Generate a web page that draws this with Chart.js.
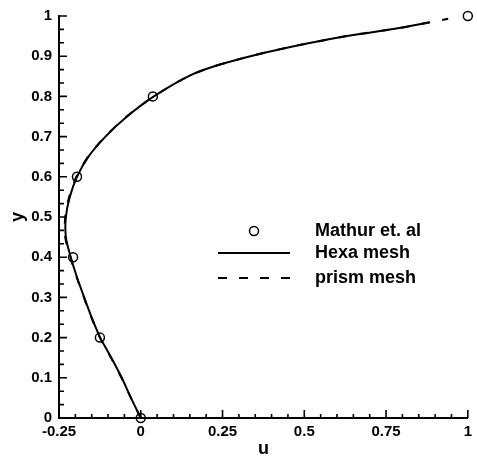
<!DOCTYPE html>
<html>
<head>
<meta charset="utf-8">
<script src="https://cdn.jsdelivr.net/npm/chart.js@4.4.0/dist/chart.umd.min.js"></script>
<style>
html, body { margin: 0; padding: 0; background: #fff; }
</style>
</head>
<body>
<canvas id="chart" width="477" height="460"></canvas>
<script>
// Profil de vitesse u le long de y
var uMathur = [0, -0.125, -0.207, -0.195, 0.037, 1];
var yMathur = [0, 0.2, 0.4, 0.6, 0.8, 1];

var yHexa = [0, 0.05, 0.1, 0.15, 0.2, 0.25, 0.3, 0.35, 0.4, 0.45, 0.5, 0.55, 0.6, 0.65, 0.7, 0.75, 0.8, 0.85, 0.875, 0.9, 0.92, 0.95, 0.97, 0.984];
var uHexa = [0, -0.03, -0.058, -0.09, -0.124, -0.15, -0.173, -0.195, -0.214, -0.229, -0.229, -0.217, -0.195, -0.16, -0.108, -0.042, 0.04, 0.145, 0.225, 0.335, 0.44, 0.63, 0.79, 0.881];

var yPrism = [0, 0.05, 0.1, 0.15, 0.2, 0.25, 0.3, 0.35, 0.4, 0.45, 0.5, 0.55, 0.6, 0.65, 0.7, 0.75, 0.8, 0.85, 0.875, 0.9, 0.92, 0.95, 0.97, 0.984, 0.993];
var uPrism = [0, -0.03, -0.059, -0.091, -0.125, -0.151, -0.174, -0.196, -0.215, -0.231, -0.231, -0.219, -0.197, -0.161, -0.109, -0.043, 0.04, 0.145, 0.225, 0.335, 0.44, 0.63, 0.79, 0.881, 0.94];

var xTicks = [-0.25, 0, 0.25, 0.5, 0.75, 1];
var xTickLabels = ['-0.25', '0', '0.25', '0.5', '0.75', '1'];
var yTicks = [0, 0.1, 0.2, 0.3, 0.4, 0.5, 0.6, 0.7, 0.8, 0.9, 1];
var yTickLabels = ['0', '0.1', '0.2', '0.3', '0.4', '0.5', '0.6', '0.7', '0.8', '0.9', '1'];

function toPoints(us, ys) {
    return us.map(function(u, i) { return { x: u, y: ys[i] }; });
}

var FONT = "'Liberation Sans', Arial, sans-serif";

// Graduations vers l'intérieur (majeures + mineures)
var tickMarks = {
    id: 'tickMarks',
    afterDraw: function(chart) {
        var ctx = chart.ctx;
        var xs = chart.scales.x, ys = chart.scales.y;
        var bottom = chart.chartArea.bottom, left = chart.chartArea.left;
        ctx.save();
        ctx.strokeStyle = '#000';
        ctx.lineWidth = 1.6;
        ctx.beginPath();
        xTicks.forEach(function(v, i) {
            var px = xs.getPixelForValue(v);
            ctx.moveTo(px, bottom); ctx.lineTo(px, bottom - 8);
            if (i < xTicks.length - 1) {
                var step = (xTicks[i + 1] - v) / 5;
                for (var k = 1; k < 5; k++) {
                    var mx = xs.getPixelForValue(v + k * step);
                    ctx.moveTo(mx, bottom); ctx.lineTo(mx, bottom - 4);
                }
            }
        });
        yTicks.forEach(function(v, i) {
            var py = ys.getPixelForValue(v);
            ctx.moveTo(left, py); ctx.lineTo(left + 8, py);
            if (i < yTicks.length - 1) {
                var step = (yTicks[i + 1] - v) / 3;
                for (var k = 1; k < 3; k++) {
                    var my = ys.getPixelForValue(v + k * step);
                    ctx.moveTo(left, my); ctx.lineTo(left + 5, my);
                }
            }
        });
        ctx.stroke();
        ctx.restore();
    }
};

// Légende dessinée dans la zone du graphique
var innerLegend = {
    id: 'innerLegend',
    afterDraw: function(chart) {
        var ctx = chart.ctx;
        var rows = [231, 253, 278];
        var x0 = 218, x1 = 290, tx = 315;
        ctx.save();
        ctx.strokeStyle = '#000';
        ctx.fillStyle = '#000';
        ctx.font = 'bold 18px ' + FONT;
        ctx.textBaseline = 'middle';
        chart.data.datasets.forEach(function(ds, i) {
            var y = rows[i];
            ctx.beginPath();
            if (ds.showLine === false) {
                ctx.lineWidth = 1.5;
                ctx.arc((x0 + x1) / 2, y, 4.5, 0, Math.PI * 2);
            } else {
                ctx.lineWidth = ds.borderWidth;
                ctx.setLineDash(ds.borderDash || []);
                ctx.moveTo(x0, y); ctx.lineTo(x1, y);
            }
            ctx.stroke();
            ctx.setLineDash([]);
            ctx.fillText(ds.label, tx, y);
        });
        ctx.restore();
    }
};

var ctx = document.getElementById('chart').getContext('2d');
var chart = new Chart(ctx, {
    type: 'scatter',
    data: {
        datasets: [{
            label: 'Mathur et. al',
            data: toPoints(uMathur, yMathur),
            showLine: false,
            pointStyle: 'circle',
            pointRadius: 4.5,
            pointBorderWidth: 1.5,
            pointBorderColor: '#000',
            pointBackgroundColor: 'rgba(0,0,0,0)',
            clip: false
        }, {
            label: 'Hexa mesh',
            data: toPoints(uHexa, yHexa),
            showLine: true,
            borderColor: '#000',
            borderWidth: 2,
            pointRadius: 0,
            tension: 0.3
        }, {
            label: 'prism mesh',
            data: toPoints(uPrism, yPrism),
            showLine: true,
            borderColor: '#000',
            borderWidth: 2,
            borderDash: [9, 12],
            pointRadius: 0,
            tension: 0.3
        }]
    },
    options: {
        responsive: false,
        animation: false,
        layout: { padding: { top: 12, right: 8, left: 0, bottom: 0 } },
        plugins: { legend: { display: false }, tooltip: { enabled: false } },
        scales: {
            x: {
                type: 'linear',
                min: -0.25,
                max: 1,
                afterBuildTicks: function(scale) {
                    scale.ticks = xTicks.map(function(v) { return { value: v }; });
                },
                afterFit: function(scale) { scale.height = 42; },
                grid: { display: false, drawTicks: false },
                border: { display: true, color: '#000', width: 2 },
                ticks: {
                    color: '#000',
                    padding: 5,
                    maxRotation: 0,
                    autoSkip: false,
                    font: { family: FONT, size: 15, weight: 'bold' },
                    callback: function(v, i) { return xTickLabels[i]; }
                },
                title: {
                    display: true,
                    text: 'u',
                    color: '#000',
                    padding: { top: 0, bottom: 0 },
                    font: { family: FONT, size: 18, weight: 'bold' }
                }
            },
            y: {
                type: 'linear',
                min: 0,
                max: 1,
                afterBuildTicks: function(scale) {
                    scale.ticks = yTicks.map(function(v) { return { value: v }; });
                },
                afterFit: function(scale) { scale.width = 59; },
                grid: { display: false, drawTicks: false },
                border: { display: true, color: '#000', width: 2 },
                ticks: {
                    color: '#000',
                    padding: 7,
                    autoSkip: false,
                    font: { family: FONT, size: 15, weight: 'bold' },
                    callback: function(v, i) { return yTickLabels[i]; }
                },
                title: {
                    display: true,
                    text: 'y',
                    color: '#000',
                    padding: { top: 7, bottom: 0 },
                    font: { family: FONT, size: 18, weight: 'bold' }
                }
            }
        }
    },
    plugins: [tickMarks, innerLegend]
});
</script>
</body>
</html>
